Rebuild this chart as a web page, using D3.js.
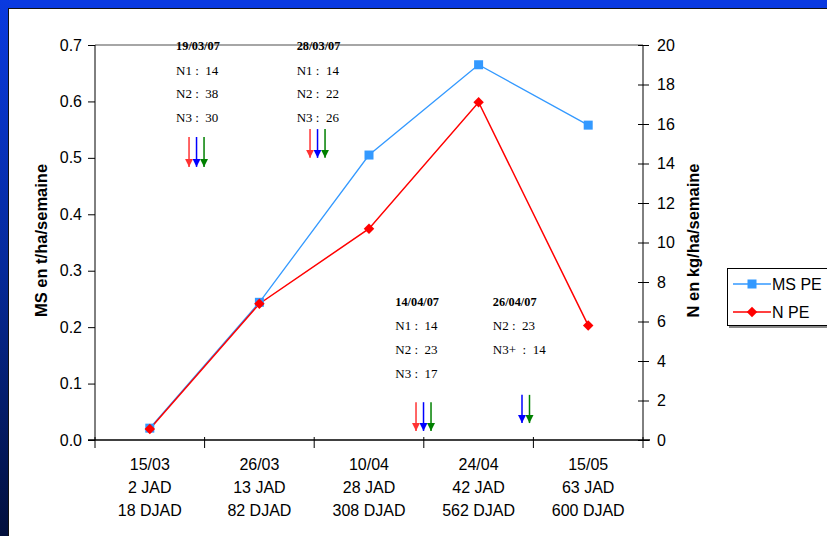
<!DOCTYPE html>
<html>
<head>
<meta charset="utf-8">
<script src="https://cdn.jsdelivr.net/npm/d3@7"></script>
<style>
  html, body { margin: 0; padding: 0; background: #fff; }
  svg { display: block; }
  .tick text { font-family: "Liberation Sans", Arial, sans-serif; }
</style>
</head>
<body>
<div id="chart"></div>
<script>
// categories (3 lines each)
const dates = ["15/03", "26/03", "10/04", "24/04", "15/05"];
const jad = ["2 JAD", "13 JAD", "28 JAD", "42 JAD", "63 JAD"];
const djad = ["18 DJAD", "82 DJAD", "308 DJAD", "562 DJAD", "600 DJAD"];

// series
const msPE = [0.021, 0.244, 0.505, 0.665, 0.558];   // t/ha/semaine (left)
const nPE = [0.56, 6.9, 10.7, 17.1, 5.8];           // kg/ha/semaine (right)

// tick labels
const leftTicks = [0, 0.1, 0.2, 0.3, 0.4, 0.5, 0.6, 0.7];
const rightTicks = [0, 2, 4, 6, 8, 10, 12, 14, 16, 18, 20];

// fertiliser applications
const applications = [
  { date: "19/03/07", lines: ["N1 :  14", "N2 :  38", "N3 :  30"], arrows: ["N1", "N2", "N3"] },
  { date: "28/03/07", lines: ["N1 :  14", "N2 :  22", "N3 :  26"], arrows: ["N1", "N2", "N3"] },
  { date: "14/04/07", lines: ["N1 :  14", "N2 :  23", "N3 :  17"], arrows: ["N1", "N2", "N3"] },
  { date: "26/04/07", lines: ["N2 :  23", "N3+  :  14"], arrows: ["N2", "N3"] }
];

// where the annotations sit, in axis units (category index, left-axis value)
const annotPos = [
  { tx: 0.74, ty: 0.691, ax: 0.858, aTop: 0.537, aTip: 0.484 },
  { tx: 1.84, ty: 0.691, ax: 1.962, aTop: 0.551, aTip: 0.500 },
  { tx: 2.74, ty: 0.2375, ax: 2.929, aTop: 0.067, aTip: 0.016 },
  { tx: 3.63, ty: 0.2375, ax: 3.896, aTop: 0.080, aTip: 0.030 }
];
const arrowColor = { N1: "#ff3333", N2: "#0000ff", N3: "#008000" };

const W = 827, H = 536;
const margin = { top: 45, right: 184, bottom: 96, left: 95 };
const width = W - margin.left - margin.right,
      height = H - margin.top - margin.bottom;

const svg = d3.select("#chart").append("svg")
  .attr("width", W).attr("height", H);

// slide background: blue frame with gradient on the left
const defs = svg.append("defs");
const grad = defs.append("linearGradient").attr("id", "leftGrad")
  .attr("x1", 0).attr("y1", 0).attr("x2", 0).attr("y2", 1);
grad.append("stop").attr("offset", 0).attr("stop-color", "#0a3ae0");
grad.append("stop").attr("offset", 0.5).attr("stop-color", "#062a9a");
grad.append("stop").attr("offset", 1).attr("stop-color", "#020f3c");
const mk = defs.selectAll("marker").data(Object.entries(arrowColor)).join("marker")
  .attr("id", d => "head" + d[0])
  .attr("viewBox", "0 0 10 10").attr("refX", 10).attr("refY", 5)
  .attr("markerWidth", 8).attr("markerHeight", 8)
  .attr("markerUnits", "userSpaceOnUse")
  .attr("orient", "auto");
mk.append("path").attr("d", "M0,0 L10,5 L0,10 Z").attr("fill", d => d[1]);

svg.append("rect").attr("x", 0).attr("y", 0).attr("width", W).attr("height", 9).attr("fill", "#0a3ae0");
svg.append("rect").attr("x", 0).attr("y", 0).attr("width", 9).attr("height", H).attr("fill", "url(#leftGrad)");
svg.append("rect").attr("x", 8.5).attr("y", 8.5).attr("width", W).attr("height", H)
  .attr("fill", "#fff").attr("stroke", "#111").attr("stroke-width", 1);

const g = svg.append("g").attr("transform", `translate(${margin.left},${margin.top})`);

// scales
const x = d3.scaleBand().domain(dates).range([0, width]);
const xc = d => x(d) + x.bandwidth() / 2;
const xu = d3.scaleLinear().domain([0, dates.length]).range([0, width]);
const yL = d3.scaleLinear().domain([0, 0.7]).range([height, 0]);
const yR = d3.scaleLinear().domain([0, 20]).range([height, 0]);

const font = '"Liberation Sans", Arial, sans-serif';
const serif = '"Liberation Serif", "Times New Roman", serif';

// top frame line
g.append("line").attr("x1", 0).attr("x2", width).attr("y1", 0).attr("y2", 0)
  .attr("stroke", "#888").attr("stroke-width", 1.5);

// left axis
const axL = g.append("g")
  .call(d3.axisLeft(yL).tickValues(leftTicks).tickFormat(d3.format(".1f")).tickSize(7).tickPadding(6));
axL.select(".domain").attr("stroke", "#000").attr("d", `M0,${height}V0`);
axL.selectAll(".tick line").attr("x2", 0).attr("x1", -7);
axL.selectAll("text").style("font-size", "16px").attr("fill", "#000");

// right axis (ticks cross the line)
const axR = g.append("g").attr("transform", `translate(${width},0)`)
  .call(d3.axisRight(yR).tickValues(rightTicks).tickSize(6).tickPadding(8));
axR.select(".domain").attr("d", `M0,${height}V0`);
axR.selectAll(".tick line").attr("x1", -5).attr("x2", 6);
axR.selectAll("text").style("font-size", "16px").attr("fill", "#000");

// bottom axis, ticks on band edges
const axB = g.append("g").attr("transform", `translate(0,${height})`);
axB.append("line").attr("x1", -7).attr("x2", width + 7).attr("stroke", "#000").attr("stroke-width", 1.5);
axB.selectAll("line.edge").data(d3.range(dates.length + 1)).join("line")
  .attr("class", "edge")
  .attr("x1", d => xu(d)).attr("x2", d => xu(d))
  .attr("y1", -3).attr("y2", 8).attr("stroke", "#000");
const lab = axB.selectAll("text.cat").data(dates).join("text")
  .attr("class", "cat")
  .attr("x", d => xc(d))
  .attr("text-anchor", "middle")
  .style("font-family", font).style("font-size", "16px");
lab.selectAll("tspan").data((d, i) => [dates[i], jad[i], djad[i]]).join("tspan")
  .attr("x", function () { return this.parentNode.getAttribute("x"); })
  .attr("y", (d, i) => 30 + i * 23)
  .text(d => d);

// axis titles
svg.append("text")
  .attr("transform", `translate(47,${margin.top + height / 2 - 2}) rotate(-90)`)
  .attr("text-anchor", "middle")
  .style("font-family", font).style("font-size", "16.5px").style("font-weight", "bold")
  .text("MS en t/ha/semaine");
svg.append("text")
  .attr("transform", `translate(699,${margin.top + height / 2 - 2}) rotate(-90)`)
  .attr("text-anchor", "middle")
  .style("font-family", font).style("font-size", "16.5px").style("font-weight", "bold")
  .text("N en kg/ha/semaine");

// lines
const msColor = "#3399ff", nColor = "#ff0000";
g.append("path").datum(msPE)
  .attr("fill", "none").attr("stroke", msColor).attr("stroke-width", 1.3)
  .attr("d", d3.line().x((d, i) => xc(dates[i])).y(d => yL(d)));
g.append("path").datum(nPE)
  .attr("fill", "none").attr("stroke", nColor).attr("stroke-width", 1.5)
  .attr("d", d3.line().x((d, i) => xc(dates[i])).y(d => yR(d)));

g.selectAll("rect.ms").data(msPE).join("rect").attr("class", "ms")
  .attr("x", (d, i) => xc(dates[i]) - 4.5).attr("y", d => yL(d) - 4.5)
  .attr("width", 9).attr("height", 9).attr("fill", msColor);
const diamond = d3.symbol().type(d3.symbolDiamond2).size(70);
g.selectAll("path.n").data(nPE).join("path").attr("class", "n")
  .attr("transform", (d, i) => `translate(${xc(dates[i])},${yR(d)})`)
  .attr("d", diamond).attr("fill", nColor);

// annotations
applications.forEach((a, k) => {
  const p = annotPos[k];
  const tx = xu(p.tx);
  g.append("text").attr("x", tx).attr("y", yL(p.ty))
    .style("font-family", serif).style("font-size", "12.3px").style("font-weight", "bold")
    .text(a.date);
  a.lines.forEach((t, j) => {
    g.append("text").attr("x", tx).attr("y", yL(p.ty) + 24.5 + j * 23.7)
      .attr("xml:space", "preserve").style("white-space", "pre")
      .style("font-family", serif).style("font-size", "13px")
      .text(t);
  });
  a.arrows.forEach((n, j) => {
    const ax = xu(p.ax) + j * 7.5;
    g.append("line")
      .attr("x1", ax).attr("x2", ax)
      .attr("y1", yL(p.aTop)).attr("y2", yL(p.aTip))
      .attr("stroke", arrowColor[n]).attr("stroke-width", 1.5)
      .attr("marker-end", `url(#head${n})`);
  });
});

// legend
const lg = svg.append("g").attr("transform", "translate(727,268)");
lg.append("rect").attr("x", 2).attr("y", 2).attr("width", 120).attr("height", 58).attr("fill", "#888");
lg.append("rect").attr("x", 0.5).attr("y", 0.5).attr("width", 120).attr("height", 57)
  .attr("fill", "#fff").attr("stroke", "#000");
const items = [
  { name: "MS PE", color: msColor, sym: "sq", y: 16 },
  { name: "N PE", color: nColor, sym: "di", y: 44 }
];
items.forEach(it => {
  lg.append("line").attr("x1", 6).attr("x2", 44).attr("y1", it.y).attr("y2", it.y)
    .attr("stroke", it.color).attr("stroke-width", 1.3);
  if (it.sym === "sq") {
    lg.append("rect").attr("x", 25 - 4.5).attr("y", it.y - 4.5).attr("width", 9).attr("height", 9).attr("fill", it.color);
  } else {
    lg.append("path").attr("transform", `translate(25,${it.y})`).attr("d", diamond).attr("fill", it.color);
  }
  lg.append("text").attr("x", 45).attr("y", it.y + 6)
    .style("font-family", font).style("font-size", "16px").text(it.name);
});
</script>
</body>
</html>
